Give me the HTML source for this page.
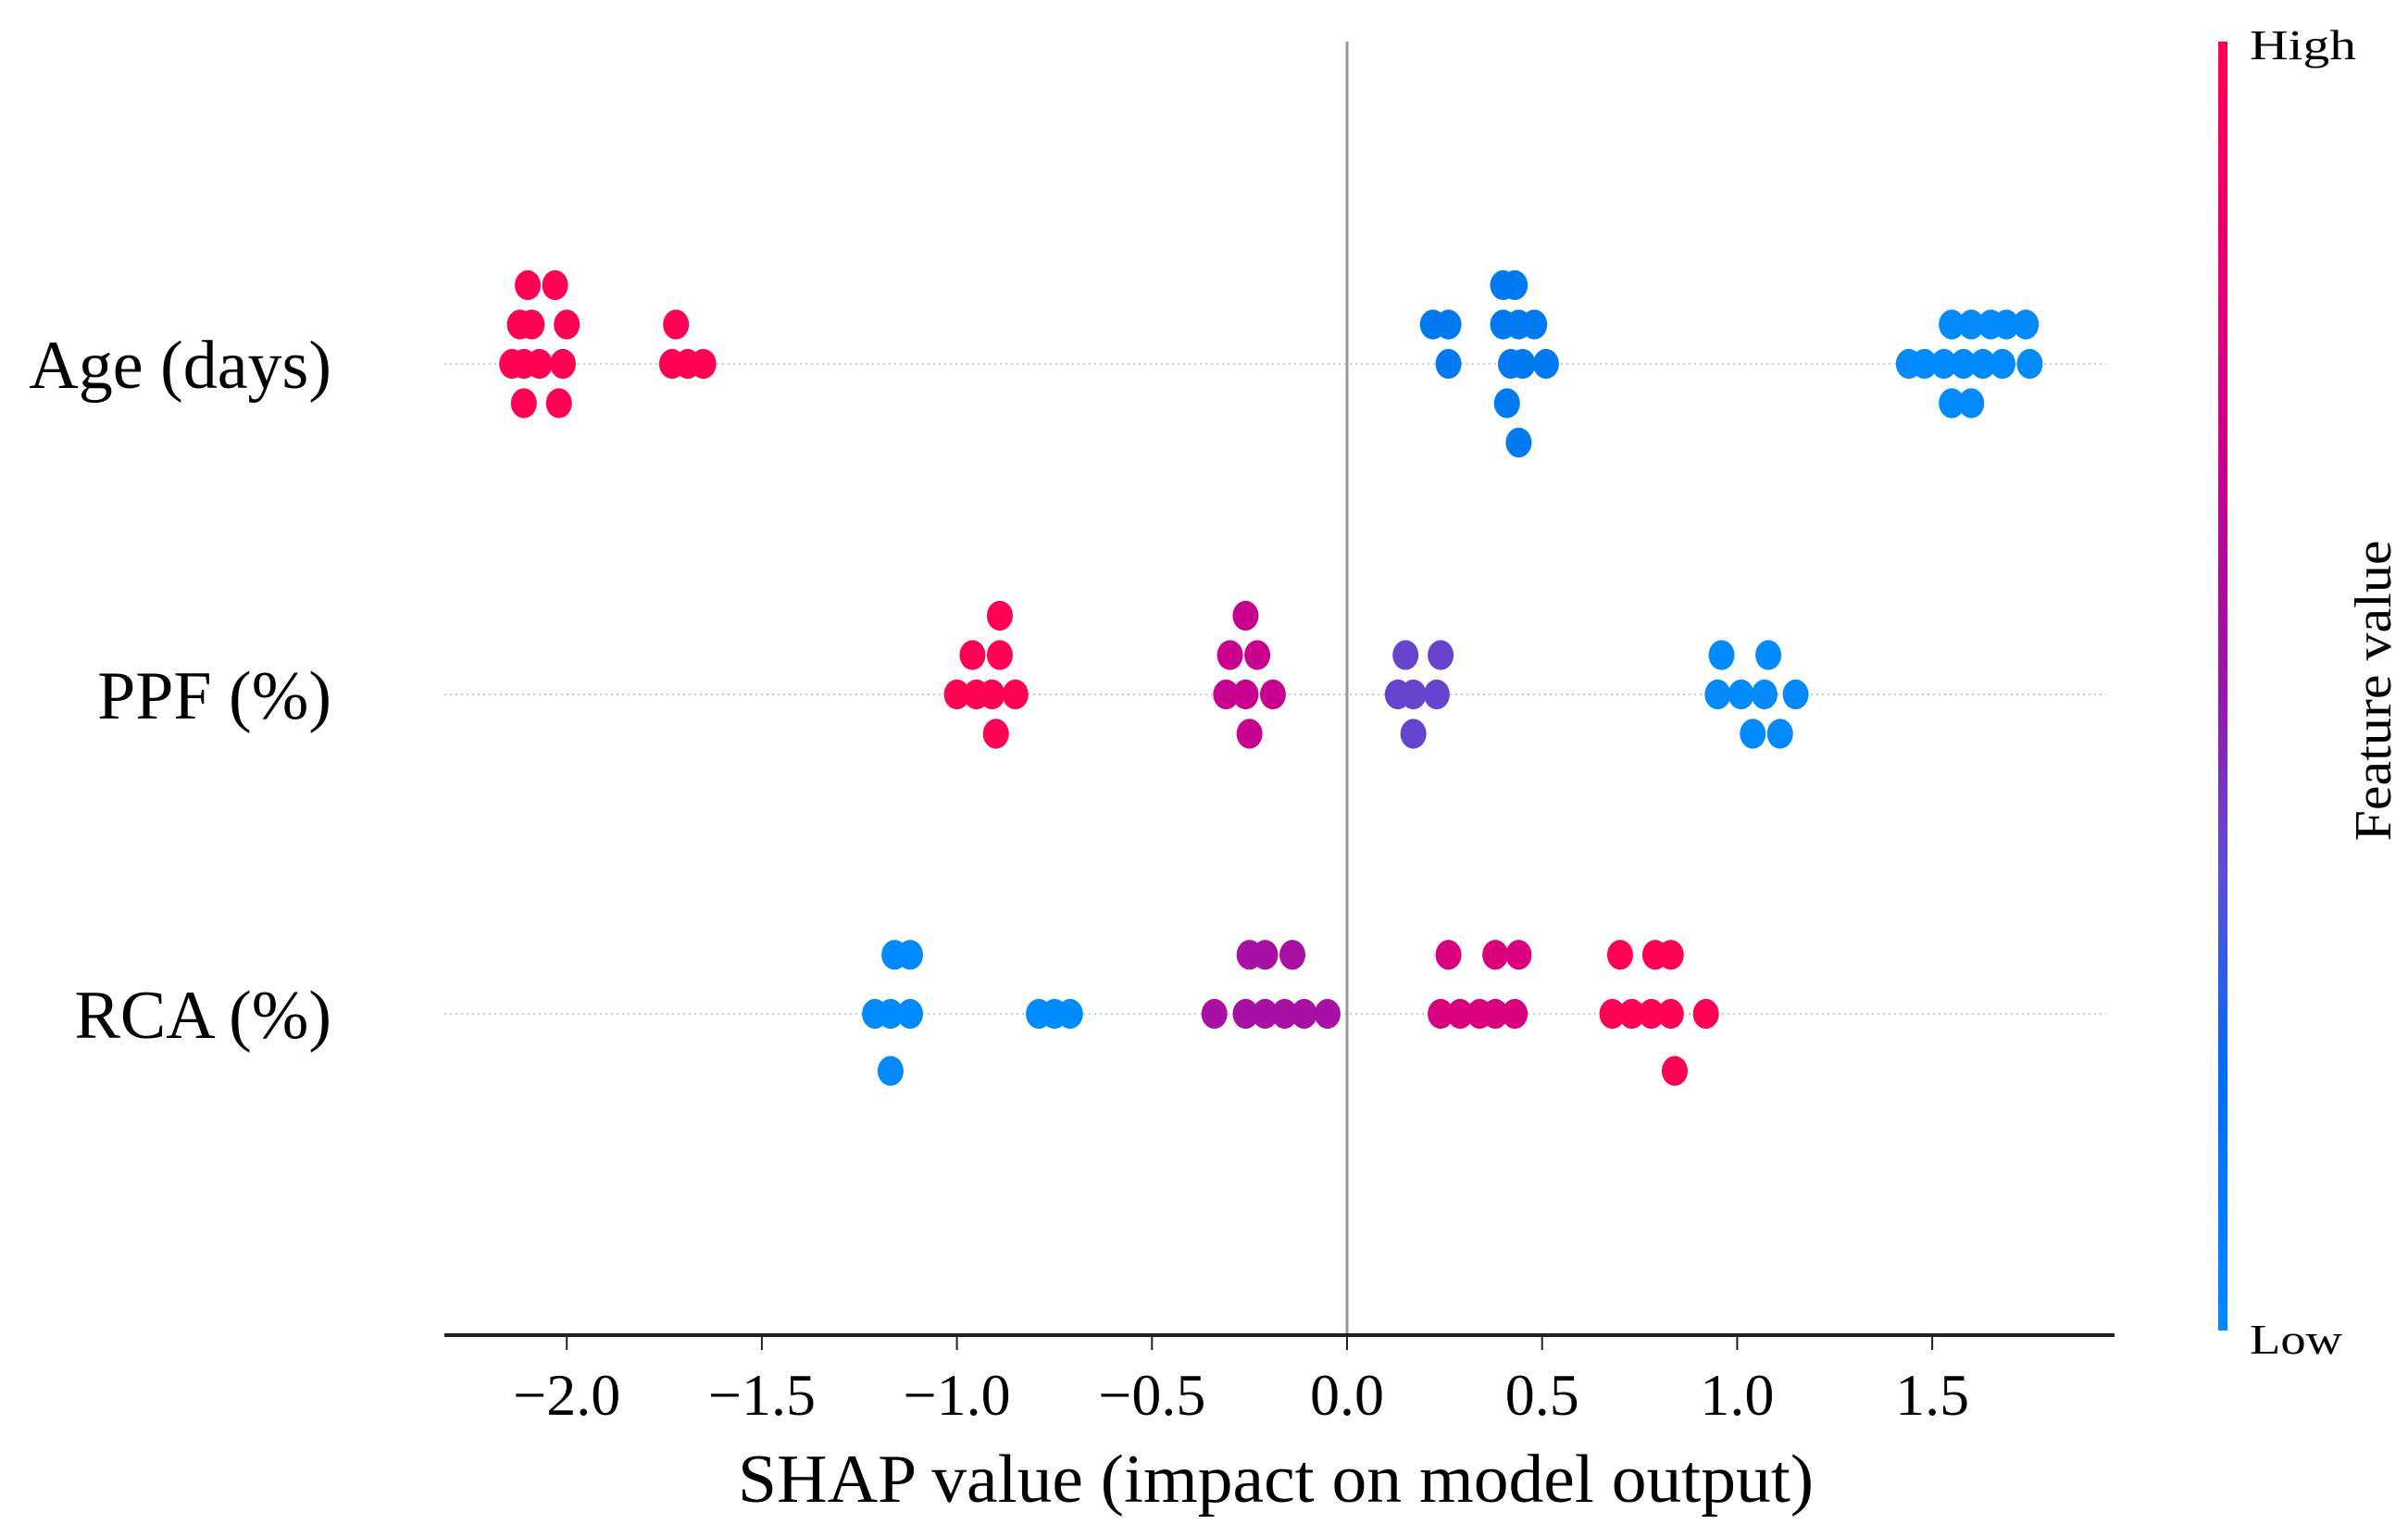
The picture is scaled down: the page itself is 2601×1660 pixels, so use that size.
<!DOCTYPE html>
<html><head><meta charset="utf-8"><style>
html,body{margin:0;padding:0;background:#fff;}
svg{display:block;font-family:"Liberation Serif",serif;}
</style></head><body>
<svg id="chart" width="2601" height="1660" viewBox="0 0 2601 1660" xmlns="http://www.w3.org/2000/svg">
<defs>
<linearGradient id="cbar" x1="0" y1="1" x2="0" y2="0">
<stop offset="0" stop-color="rgb(0,138,251)"/>
<stop offset="0.2" stop-color="rgb(0,110,235)"/>
<stop offset="0.35" stop-color="rgb(90,80,215)"/>
<stop offset="0.5" stop-color="rgb(155,20,170)"/>
<stop offset="0.7" stop-color="rgb(205,0,140)"/>
<stop offset="1" stop-color="rgb(255,0,82)"/>
</linearGradient>
</defs>
<g id="grid"></g>
<g id="dots"></g>
<g id="axes"></g>
<rect x="2396" y="45" width="10" height="1392" fill="url(#cbar)"/>
<text x="2430" y="64" font-size="46" textLength="115" lengthAdjust="spacingAndGlyphs">High</text>
<text x="2430" y="1462" font-size="46" textLength="100" lengthAdjust="spacingAndGlyphs">Low</text>
<text transform="translate(2582,746) rotate(-90)" text-anchor="middle" font-size="56" textLength="325" lengthAdjust="spacingAndGlyphs">Feature value</text>
<text x="1378" y="1622" text-anchor="middle" font-size="74" textLength="1162" lengthAdjust="spacingAndGlyphs">SHAP value (impact on model output)</text>
</svg>
<script>
const features = ["Age (days)", "PPF (%)", "RCA (%)"];
const xTicks = [-2.0, -1.5, -1.0, -0.5, 0.0, 0.5, 1.0, 1.5];
const tickLabels = ["\u22122.0", "\u22121.5", "\u22121.0", "\u22120.5", "0.0", "0.5", "1.0", "1.5"];
// per-feature SHAP values, beeswarm level, feature value (0=low,1=high)
const ageShap = [-2.10,-2.03, -2.12,-2.09,-2.00,-1.72, -2.14,-2.11,-2.07,-2.01,-1.73,-1.69,-1.65, -2.11,-2.02,
  0.40,0.43, 0.22,0.26,0.40,0.44,0.48, 0.26,0.42,0.45,0.51, 0.41, 0.44,
  1.55,1.60,1.65,1.69,1.74, 1.44,1.48,1.53,1.58,1.63,1.68,1.75, 1.55,1.60];
const ageLevel = [-2,-2, -1,-1,-1,-1, 0,0,0,0,0,0,0, 1,1,
  -2,-2, -1,-1,-1,-1,-1, 0,0,0,0, 1, 2,
  -1,-1,-1,-1,-1, 0,0,0,0,0,0,0, 1,1];
const ageValue = [1,1, 1,1,1,1, 1,1,1,1,1,1,1, 1,1,
  0.12,0.12, 0.12,0.12,0.12,0.12,0.12, 0.12,0.12,0.12,0.12, 0.12, 0.12,
  0,0,0,0,0, 0,0,0,0,0,0,0, 0,0];
const ppfShap = [-0.89,-0.26, -0.96,-0.89,-0.30,-0.23,0.15,0.24,0.96,1.08,
  -1.00,-0.95,-0.91,-0.85,-0.31,-0.26,-0.19,0.13,0.17,0.23,0.95,1.01,1.07,1.15,
  -0.90,-0.25,0.17,1.04,1.11];
const ppfLevel = [-2,-2, -1,-1,-1,-1,-1,-1,-1,-1,
  0,0,0,0,0,0,0,0,0,0,0,0,0,0,
  1,1,1,1,1];
const ppfValue = [1,0.68, 1,1,0.68,0.68,0.38,0.38,0,0,
  1,1,1,1,0.68,0.68,0.68,0.38,0.38,0.38,0,0,0,0,
  1,0.68,0.38,0,0];
const rcaShap = [-1.16,-1.12,-0.25,-0.21,-0.14,0.26,0.38,0.44,0.70,0.79,0.83,
  -1.21,-1.17,-1.12,-0.79,-0.75,-0.71,-0.34,-0.26,-0.21,-0.16,-0.11,-0.05,0.24,0.29,0.34,0.38,0.43,0.68,0.73,0.78,0.83,0.92,
  -1.17,0.84];
const rcaLevel = [-1.5,-1.5,-1.5,-1.5,-1.5,-1.5,-1.5,-1.5,-1.5,-1.5,-1.5,
  0,0,0,0,0,0,0,0,0,0,0,0,0,0,0,0,0,0,0,0,0,0,
  1.45,1.45];
const rcaValue = [0,0,0.55,0.55,0.55,0.78,0.78,0.78,1,1,1,
  0,0,0,0,0,0,0.55,0.55,0.55,0.55,0.55,0.55,0.78,0.78,0.78,0.78,0.78,1,1,1,1,1,
  0,1];

const NS = "http://www.w3.org/2000/svg";
const X0 = 1455, UNIT = 421.4;
const rowY = [393, 750, 1095];
const LEVEL = 42.5, R = 14;
const xScale = v => X0 + v * UNIT;
const yScale = (row, lvl) => rowY[row] + lvl * LEVEL;
const stops = [[0,[0,138,251]],[0.2,[0,110,235]],[0.35,[90,80,215]],[0.5,[155,20,170]],[0.7,[205,0,140]],[1,[255,0,82]]];
function cmap(t){
  for(let i=1;i<stops.length;i++){
    if(t<=stops[i][0]){
      const a=stops[i-1],b=stops[i],f=(t-a[0])/(b[0]-a[0]);
      const c=a[1].map((v,k)=>Math.round(v+(b[1][k]-v)*f));
      return "rgb("+c.join(",")+")";
    }
  }
  return "rgb(255,0,82)";
}
function mk(tag, attrs){const e=document.createElementNS(NS,tag);for(const k in attrs)e.setAttribute(k,attrs[k]);return e;}

const grid=document.getElementById("grid"), dots=document.getElementById("dots"), axes=document.getElementById("axes");
features.forEach((f,i)=>{
  const ln=mk("line",{x1:480,x2:2275,y1:rowY[i],y2:rowY[i],stroke:"#ccc","stroke-width":2,"stroke-dasharray":"2 4"});
  
  
  grid.appendChild(ln);
  const t=mk("text",{x:358,y:rowY[i]+26,"text-anchor":"end","font-size":74});
  
  
  t.textContent=f;
  axes.appendChild(t);
});
const sets=[[ageShap,ageLevel,ageValue],[ppfShap,ppfLevel,ppfValue],[rcaShap,rcaLevel,rcaValue]];
sets.forEach((s,row)=>{
  s[0].forEach((v,j)=>{
    const c=mk("ellipse",{cx:xScale(v),cy:yScale(row,s[1][j]),rx:R,ry:R*1.15,fill:cmap(s[2][j])});
    
    
    dots.appendChild(c);
  });
});
const zl=mk("line",{x1:xScale(0),x2:xScale(0),y1:45,y2:1442,stroke:"#999","stroke-width":3});


axes.appendChild(zl);
const xa=mk("line",{x1:480,x2:2284,y1:1442,y2:1442,stroke:"#222","stroke-width":4});


axes.appendChild(xa);
xTicks.forEach((v,i)=>{
  const tk=mk("line",{x1:xScale(v),x2:xScale(v),y1:1442,y2:1458,stroke:"#222","stroke-width":2});
  
  
  axes.appendChild(tk);
  const tl=mk("text",{x:xScale(v),y:1528,"text-anchor":"middle","font-size":64});
  
  
  tl.textContent=tickLabels[i];
  axes.appendChild(tl);
});
</script>
</body></html>
